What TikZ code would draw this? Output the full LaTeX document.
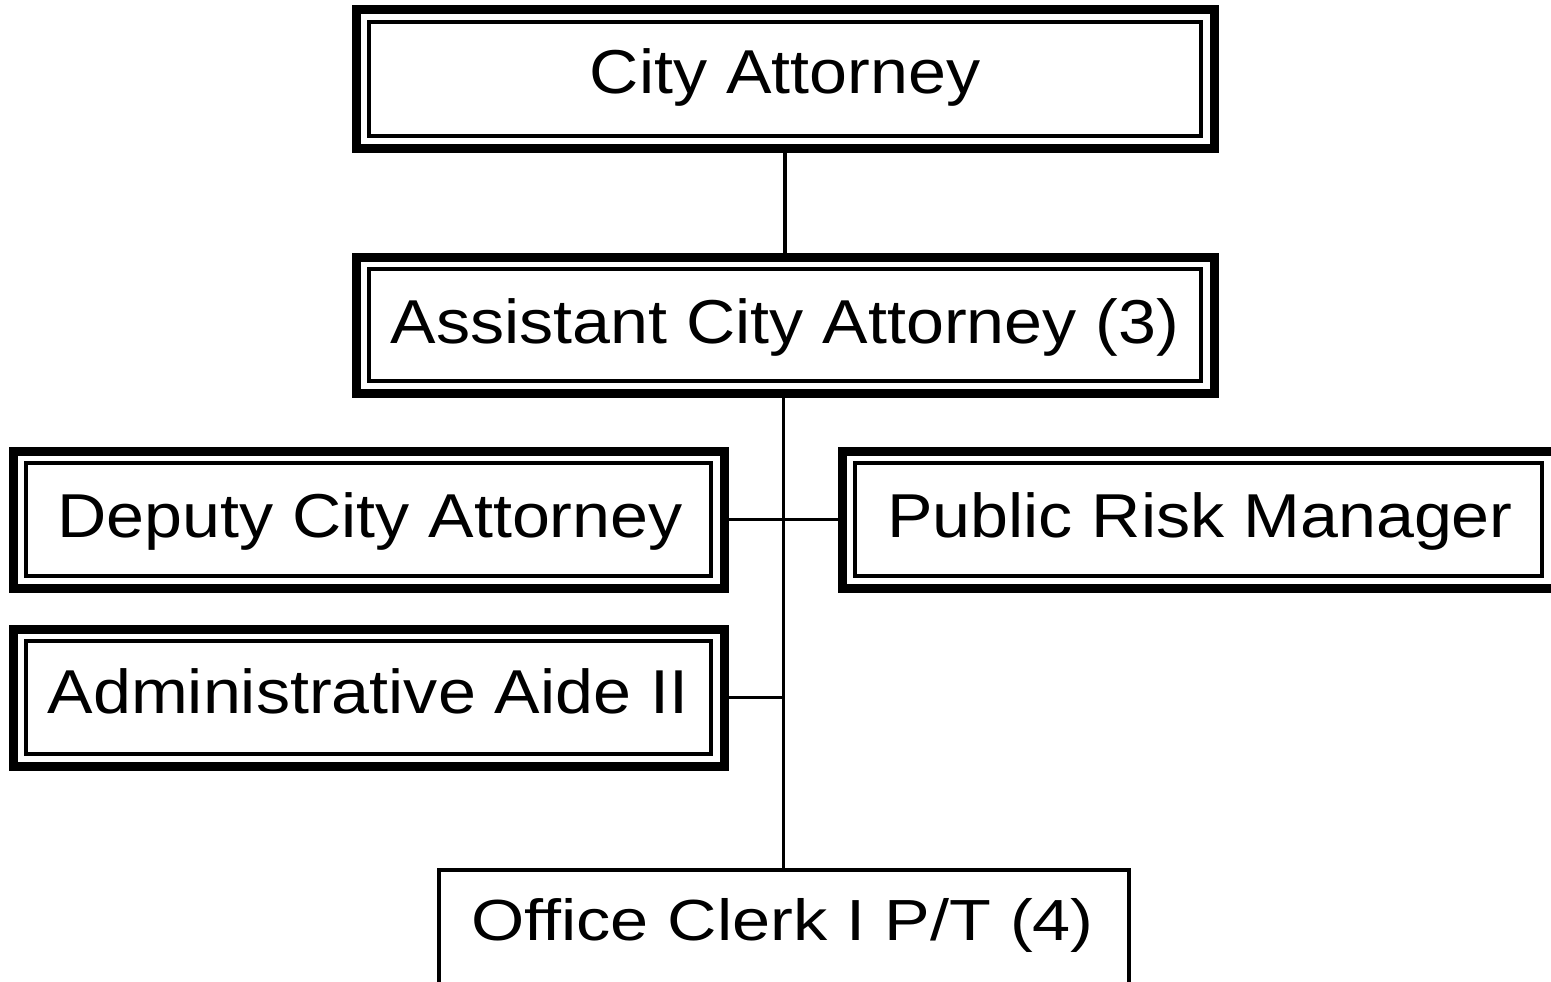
\documentclass[tikz,border=0pt]{standalone}
\usepackage{fontspec}
\usepackage{graphicx}
\setmainfont{Liberation Sans}
\begin{document}
\begin{tikzpicture}[x=1pt,y=1pt,
  post/.style={draw=black,line width=9pt,inner sep=0pt,outer sep=0pt},
  plainpost/.style={draw=black,line width=3.5pt,inner sep=0pt,outer sep=0pt},
  title/.style={inner sep=0pt,anchor=base,font=\fontsize{62}{74}\selectfont},
  smalltitle/.style={inner sep=0pt,anchor=base,font=\fontsize{58}{70}\selectfont},
  innerframe/.style={draw=black,line width=4pt},
  link/.style={draw=black,line width=3.5pt}]
\useasboundingbox (0,0) rectangle (1551,-982);
\clip (0,0) rectangle (1551,-982);

% boxes with a heavy outer frame
\node[post,minimum width=858pt,minimum height=138pt] (city)   at (785,-79)      {};
\node[post,minimum width=858pt,minimum height=136pt] (asst)   at (785,-325)     {};
\node[post,minimum width=711pt,minimum height=137pt] (deputy) at (368.5,-519.5) {};
\node[post,minimum width=713pt,minimum height=137pt] (risk)   at (1198.5,-519.5) {};
\node[post,minimum width=711pt,minimum height=137pt] (aide)   at (368.5,-697.5) {};
\node[plainpost,minimum width=690pt,minimum height=120pt] (clerk) at (784,-930) {};

% thin inner frames
\foreach \n in {city,asst,deputy,risk,aide}{
  \draw[innerframe] ([shift={(13pt,12pt)}]\n.south west) rectangle ([shift={(-13pt,-12pt)}]\n.north east);
}

% titles
\node[title] (cityT)   at (785,-94)   {\scalebox{1.1}[1]{City Attorney}};
\node[title] (asstT)   at (785,-343)  {\scalebox{1.1}[1]{Assistant City Attorney (3)}};
\node[title] (deputyT) at (370,-537)  {\scalebox{1.1}[1]{Deputy City Attorney}};
\node[title] (riskT)   at (1200,-537) {\scalebox{1.1}[1]{Public Risk Manager}};
\node[title] (aideT)   at (368,-713)  {\scalebox{1.1}[1]{Administrative Aide II}};
\node[smalltitle] (clerkT) at (782.5,-940) {\scalebox{1.18}[1]{Office Clerk I P/T (4)}};

% reporting lines
\draw[link] (city.south) -- (asst.south |- asst.north);
\draw[link] ([xshift=-1.5pt]asst.south) -- ([xshift=-1.5pt]asst.south |- clerk.north);
\draw[link] (deputy.east) -- (risk.west);
\draw[link] (aide.east) -- ([xshift=-1.5pt]aide.east -| asst.south);
\end{tikzpicture}
\end{document}
